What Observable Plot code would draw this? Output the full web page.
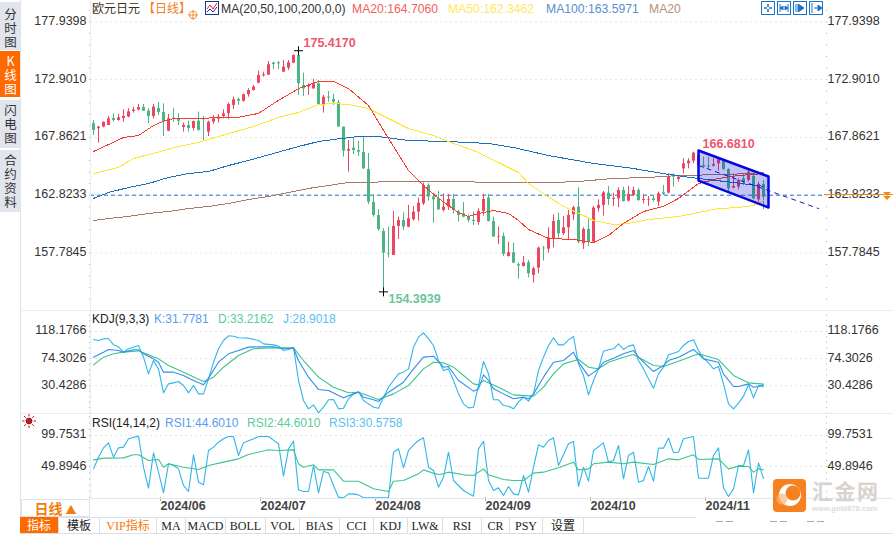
<!DOCTYPE html>
<html><head><meta charset="utf-8">
<script src="https://cdn.jsdelivr.net/npm/d3@7"></script>
<script src="https://cdn.jsdelivr.net/npm/@observablehq/plot@0.6"></script>
<style>
html,body{margin:0;padding:0;background:#fff}
#c{position:relative;width:893px;height:534px;overflow:hidden;font-family:"Liberation Sans","Noto Sans CJK SC",sans-serif;background:#fff}
#c>*{position:absolute}
.t{white-space:nowrap;line-height:14px}
.side{left:0;width:20px;background:#e2e4ee;color:#333;font:12.5px/20px "Noto Sans CJK SC",sans-serif;box-sizing:border-box;padding-top:6px;writing-mode:vertical-rl;text-orientation:upright;letter-spacing:1.5px}
.tab{top:517px;height:16px;box-sizing:border-box;border-right:1px solid #dcdfe6;text-align:center;font:12px/18px "Liberation Serif","Noto Sans CJK SC",serif;color:#222}
</style></head><body><div id="c"></div>
<script>
const openP=[169.05,168.61,168.76,168.90,169.51,169.34,169.51,169.63,170.12,170.24,
170.47,170.15,169.69,170.38,170.04,168.41,169.54,169.45,168.73,168.90,
168.64,169.28,169.48,168.32,169.19,169.45,169.69,169.92,170.65,171.17,
171.00,171.58,171.95,172.59,173.23,173.29,174.34,174.37,173.55,173.90,
174.34,175.00,172.39,172.24,172.10,172.54,170.73,171.37,171.17,170.88,
168.76,166.66,166.93,166.72,166.55,165.06,162.19,161.05,159.66,157.74,
157.57,160.10,160.62,160.04,160.68,161.35,162.07,163.67,162.66,162.51,
161.49,161.78,162.45,161.35,161.20,160.91,160.62,160.45,161.41,162.57,
160.53,159.17,159.23,157.48,157.80,156.76,156.61,156.93,155.83,156.47,
158.21,158.12,159.02,160.62,159.46,159.98,161.11,161.78,158.59,159.84,
158.73,161.64,161.93,163.00,162.45,162.51,163.24,162.31,162.80,163.24,
162.36,162.39,162.51,162.22,163.03,163.00,164.60,164.19,165.12,165.56,
165.79,165.36,165.42,165.36,165.36,165.56,165.79,165.07,163.44,163.53,
164.25,164.11,164.46,162.42,163.76];
const closeP=[168.47,168.76,169.19,169.48,169.34,169.57,169.69,170.09,170.24,170.47,
170.15,169.69,170.50,170.04,169.19,169.48,169.43,169.28,168.90,168.64,
169.25,168.47,169.40,169.19,169.48,169.63,169.92,170.73,171.14,171.02,
171.58,171.95,172.24,173.26,173.32,174.19,174.22,174.28,173.99,174.37,
175.00,172.54,172.10,172.39,172.54,170.70,171.37,171.29,170.94,168.76,
166.66,166.81,166.72,166.58,165.12,162.21,161.05,159.83,157.77,157.69,
160.10,160.62,160.04,160.77,161.35,162.13,163.67,162.66,162.42,161.55,
161.78,162.45,161.49,161.06,160.91,160.62,160.53,161.41,162.45,160.53,
159.17,159.23,157.66,157.80,156.90,156.64,156.93,155.97,156.41,158.21,
158.15,159.08,160.53,159.46,159.98,161.06,161.73,158.73,159.84,158.73,
161.70,161.93,163.03,162.45,162.54,163.24,162.28,162.89,163.24,162.36,
162.45,162.45,162.36,162.95,162.89,164.40,164.40,164.40,165.56,165.79,
166.49,166.29,165.27,165.27,165.50,165.91,165.07,163.38,163.58,164.11,
163.96,164.83,162.51,163.76,162.65];
const highP=[169.34,168.82,169.19,169.69,169.92,169.86,170.27,170.36,170.50,170.73,
170.73,170.36,170.73,170.91,170.79,169.86,170.36,169.92,169.11,169.28,
169.28,170.07,169.69,169.28,169.77,169.86,170.27,170.85,171.37,171.29,
171.66,172.10,172.39,173.64,173.55,174.48,174.42,174.48,174.57,174.57,
175.06,175.417,173.46,172.54,172.91,172.83,171.52,171.87,171.61,171.08,
168.76,167.59,167.74,167.51,167.89,166.46,162.88,161.57,159.92,160.04,
161.41,160.91,161.29,161.93,161.84,162.57,163.88,163.82,163.00,163.15,
162.95,162.89,162.89,161.49,162.19,161.11,161.35,161.64,162.89,162.89,
160.91,160.04,159.52,158.73,158.65,156.90,157.48,157.13,156.55,158.30,
158.35,159.98,161.11,161.26,160.97,161.49,161.87,163.47,159.98,160.82,
161.84,162.42,163.15,163.59,163.00,163.47,163.53,163.59,163.53,163.38,
162.89,162.71,162.80,163.09,163.67,164.69,164.69,164.54,166.00,166.00,
166.58,166.681,166.14,166.14,166.00,166.00,165.85,165.12,164.69,164.25,
164.69,164.98,164.69,163.96,164.11];
const lowP=[168.03,167.36,168.70,168.90,169.19,169.28,169.19,169.57,169.98,170.21,
170.12,169.05,169.48,169.77,167.94,168.35,169.19,168.90,168.32,168.32,
168.41,168.41,167.54,167.94,168.99,169.11,169.48,169.40,170.27,170.65,
170.94,171.37,171.90,172.54,173.12,173.26,173.78,173.76,173.52,173.70,
174.28,171.52,171.43,171.52,172.04,170.65,169.98,170.94,170.65,168.76,
166.14,164.83,166.37,166.20,165.07,162.01,160.90,159.68,154.3939,157.37,
157.57,158.96,159.75,159.98,160.56,160.56,161.93,162.31,160.39,161.49,
161.35,161.49,161.20,160.48,160.85,160.42,160.19,160.19,161.00,160.48,
159.17,158.53,157.48,157.42,156.84,155.51,156.55,155.62,155.16,155.97,
157.08,157.77,158.24,159.02,159.31,158.96,160.62,158.59,158.09,158.35,
158.73,161.35,161.00,161.93,161.84,161.73,162.22,162.22,162.71,162.28,
162.07,161.84,162.22,161.84,162.80,162.95,163.53,163.96,164.69,165.12,
165.56,164.98,165.12,165.12,165.27,164.92,164.98,163.09,163.38,163.29,
163.67,163.96,162.42,162.22,161.55];

const ma20Idx=[0,6,9,12,14,16,22,29,33,36,41,45,48,51,55,59,63,66,69,73,75,77,80,83,85,87,91,96,100,103,106,110,114,117,121,125,129,134];
const ma20Val=[166.63,167.85,168.03,168.90,169.27,169.51,169.54,169.62,169.95,170.82,172.12,172.74,172.74,172.12,170.64,167.77,164.98,163.67,162.54,161.31,160.97,161.23,161.49,161.23,160.62,159.83,159.05,158.96,158.70,159.31,160.36,161.40,161.84,162.54,163.84,164.28,164.54,164.706];
const ma50Idx=[0,5,8,12,17,21,27,32,37,41,45,48,51,55,59,63,68,71,76,81,85,87,90,94,98,100,104,107,111,115,117,125,129,132,134];
const ma50Val=[164.71,165.24,166.02,166.46,167.07,167.42,168.20,168.81,169.60,170.03,170.73,170.82,170.73,170.38,169.51,168.64,168.03,167.50,166.72,165.67,164.80,163.84,162.97,161.84,161.05,160.62,160.27,160.36,160.70,160.88,160.97,161.66,161.75,161.92,162.3462];
const ma100Idx=[0,3,7,11,15,19,23,27,31,36,41,45,48,53,57,63,71,79,84,91,100,108,115,121,128,134];
const ma100Val=[162.54,163.06,163.49,163.84,164.37,164.71,164.89,165.41,165.85,166.46,167.07,167.50,167.68,167.94,167.94,167.59,167.50,167.33,166.98,166.28,165.59,165.15,164.63,164.28,163.93,163.5971];
const ma200Idx=[0,3,7,11,15,19,23,27,31,35,39,43,47,51,55,59,71,81,92,97,104,111,117,127,134];
const ma200Val=[160.62,160.79,160.97,161.23,161.40,161.66,161.84,162.10,162.45,162.71,163.06,163.41,163.67,163.93,163.93,164.02,164.02,163.93,163.93,164.02,164.28,164.37,164.54,164.63,164.80];

const jIdx=[0,1,2,3,4,5,6,7,9,10,11,12,13,14,15,16,17,18,19,20,21,22,23,24,25,26,27,28,29,31,33,34,36,37,38,39,40,41,42,43,44,45,46,47,48,49,50,51,52,53,54,55,56,57,58,59,60,61,62,63,64,65,66,67,68,69,70,71,72,73,74,75,76,77,78,79,80,81,82,83,84,85,86,87,88,89,90,91,92,93,94,95,96,97,98,99,100,101,102,103,104,105,106,107,108,109,110,111,112,113,114,115,116,117,118,119,120,121,122,123,124,125,126,127,128,129,130,131,132,133,134];
const jVal=[105.2,103.6,106.3,106.9,96.6,93.4,84.8,90.2,95.6,76.7,49.8,71.3,57.8,19.1,33.6,35.2,37.4,30.9,19.1,30.9,17.4,17.4,41.7,68.6,90.2,103.6,111.2,110.6,108.0,107.4,103.6,98.2,96.6,94.5,87.5,89.1,92.9,39.0,6.7,-6.8,-0.3,-13.3,-4.1,7.8,8.3,-6.8,-5.7,9.4,17.4,21.2,6.7,1.3,-4.1,-5.7,12.1,28.2,39.0,49.8,52.5,57.8,92.9,109.0,116.0,106.3,95.6,71.3,55.2,57.8,39.0,17.4,1.3,-5.2,-4.1,30.9,69.7,49.8,7.8,7.8,-1.4,-2.5,-6.8,4.0,12.1,5.6,17.4,55.2,76.7,95.6,108.0,96.6,96.6,104.7,110.1,65.9,47.1,15.8,39.0,57.8,86.4,88.6,90.2,98.2,89.1,94.5,96.6,71.3,57.8,41.7,26.6,49.8,60.5,80.5,83.2,85.9,95.6,102.0,104.7,87.5,75.1,67.5,57.8,61.6,33.6,1.3,-6.8,2.4,13.7,32.5,11.0,30.9,28.9018];
const kIdx=[0,2,3,5,6,8,9,10,12,13,14,16,18,20,22,23,25,27,29,31,33,36,38,40,41,43,45,47,49,50,52,53,54,56,57,59,62,64,66,68,70,71,73,76,77,78,79,80,82,84,86,87,88,90,92,94,96,97,99,101,102,104,106,108,109,112,114,115,117,120,121,122,125,126,128,129,131,132,133,134];
const kVal=[76.7,84.8,89.1,87.5,84.8,88.6,88.6,82.1,74.0,68.6,52.5,52.5,47.1,39.0,32.0,42.8,68.6,82.1,87.5,92.9,93.4,93.4,90.2,91.2,71.3,44.4,24.4,22.8,14.7,11.0,17.4,20.1,12.1,7.8,5.1,20.1,36.3,57.8,76.7,78.3,60.5,61.6,39.0,21.8,25.5,48.2,39.0,25.5,17.4,9.4,12.1,9.4,17.4,44.4,68.6,71.3,84.8,68.6,46.0,57.8,68.6,75.1,82.1,87.5,76.7,53.5,63.2,71.3,76.7,89.1,82.1,74.0,68.6,49.8,29.3,29.3,33.6,28.2,29.3,31.7781];
const dIdx=[0,2,4,6,9,11,13,15,18,22,24,26,29,32,36,40,42,45,48,51,53,57,60,63,66,68,70,72,74,76,77,78,81,84,88,90,92,94,97,99,101,103,106,108,112,114,117,121,125,128,131,134];
const dVal=[64.3,76.7,82.1,84.8,86.9,80.5,74.0,63.2,52.5,37.4,44.4,60.5,79.4,90.2,91.8,91.8,71.3,44.4,28.2,19.1,20.1,8.3,17.4,30.9,57.8,68.6,67.5,60.5,47.1,33.6,32.0,39.0,28.2,15.8,13.7,28.2,49.8,65.9,72.9,60.5,57.8,68.6,76.7,81.0,63.2,61.6,70.2,82.1,72.9,47.1,35.2,33.2162];

const rsi3Idx=[0,1,2,3,4,5,6,7,9,10,11,12,13,14,15,16,17,18,19,20,21,22,23,24,25,26,27,28,29,30,32,33,35,37,38,39,40,41,42,43,44,45,46,47,48,49,50,51,52,53,54,59,60,61,62,63,64,65,66,67,68,69,70,71,72,74,76,77,78,79,80,81,82,83,84,85,86,87,88,89,90,91,92,93,95,96,97,98,99,100,102,103,104,105,106,107,108,109,110,111,112,113,114,115,116,117,118,120,121,123,124,125,126,127,128,129,130,131,132,133,134];
const rsi3Val=[46.1,64.9,79.9,87.9,64.9,79.9,81.0,94.4,98.7,48.8,15.1,71.9,40.8,7.6,54.2,51.5,46.1,19.4,9.7,68.7,24.7,20.4,75.6,81.0,89.0,94.4,98.1,98.1,67.6,87.9,94.4,98.1,98.1,86.3,34.4,78.3,90.6,12.4,9.7,9.7,51.5,7.6,41.9,39.7,19.4,0.6,-0.5,5.9,5.9,4.3,-0.5,-0.5,72.9,78.3,47.8,75.6,84.7,91.7,96.0,48.8,43.5,16.7,32.8,72.9,27.4,11.3,2.2,78.3,90.6,27.4,11.3,15.6,3.3,17.7,5.9,4.3,35.4,8.6,48.8,84.7,81.0,91.7,96.0,51.5,86.3,90.1,17.7,48.8,26.3,75.6,87.9,56.9,59.6,83.7,30.1,67.6,72.9,24.7,27.4,49.9,26.3,79.4,79.4,95.5,71.9,72.9,94.4,98.1,31.1,31.1,67.6,79.9,15.6,1.7,14.0,51.5,51.5,76.7,7.6,55.8,30.5758];
const rsi2Idx=[0,2,6,8,9,11,13,14,15,18,21,23,26,29,31,35,37,40,41,42,44,45,48,50,53,56,59,60,62,65,66,68,69,70,71,74,76,78,79,82,84,86,88,90,93,96,97,99,100,103,106,108,112,115,117,120,121,125,127,129,131,132,133,134];
const rsi2Val=[60.6,63.3,63.8,68.7,68.7,59.6,61.2,48.8,54.2,48.8,45.1,51.5,56.9,62.2,69.2,76.7,75.6,76.7,54.2,48.8,52.6,44.5,44.5,26.3,26.3,14.0,9.7,26.3,27.4,38.1,44.5,39.2,37.0,38.1,40.8,36.5,35.4,46.1,36.5,29.0,27.4,27.4,39.2,40.8,47.8,56.9,44.5,46.1,54.2,56.9,54.2,56.9,53.1,62.2,60.6,68.7,61.2,62.2,46.1,50.5,49.9,40.8,46.1,44.6010];

const mainTicks=[177.9398,172.9010,167.8621,162.8233,157.7845];
const kdjTicks=[118.1766,74.3026,30.4286];
const rsiTicks=[99.7531,49.8946];
const monthIdx=[13,33,56,78,99,122];
const monthLabels=["2024/06","2024/07","2024/08","2024/09","2024/10","2024/11"];
const lastPrice=162.8233;
const channelX=[121,135];
const channelTop=[166.72,164.45];
const channelBottom=[164.10,161.75];
const trendX=[121,145];
const trendY=[165.41,161.66];
const extremes=[{i:41,p:175.417,c:"#f0566e",dx:5,dy:-8},{i:121,p:166.681,c:"#f0566e",dx:4,dy:-7},{i:58,p:154.3939,c:"#6cc49a",dx:5,dy:7}];
const crosses=[{i:41,p:175.417},{i:58,p:154.3939}];

const root=document.getElementById("c");
const FONT='"Liberation Sans",sans-serif';
const xDom=[-0.6,146.4];
const zip=(idx,val)=>idx.map((i,k)=>({i,v:val[k]}));
const f4=d3.format(".4f");
const RED="#ee4660",GRN="#4db584";
function minor(majors){const s=(majors[0]-majors[1])/5;return d3.range(-5,31).map(k=>majors[0]-k*s);}
function panel(top,h,mb,yDom,ticks,marks){
  const mn=minor(ticks).filter(v=>v<=yDom[0]&&v>=yDom[1]);
  const el=Plot.plot({width:893,height:h+mb,marginLeft:90,marginRight:68,marginTop:0,marginBottom:mb,
    x:{domain:xDom,range:[90,825],axis:null},y:{domain:yDom,range:[0,h],axis:null},
    style:{fontFamily:FONT,fontSize:"12.5px",color:"#333",background:"transparent",position:"absolute",left:"0",top:top+"px"},
    marks:[
      Plot.gridY(ticks,{stroke:"#e6e6e6",strokeOpacity:1,strokeDasharray:"2,3"}),
      Plot.axisY(mn,{anchor:"left",label:null,tickSize:1,tickFormat:()=>"",stroke:"#b5b5b5"}),
      Plot.axisY(mn,{anchor:"right",label:null,tickSize:1,tickFormat:()=>"",stroke:"#b5b5b5"}),
      Plot.axisY(ticks,{anchor:"left",label:null,tickSize:0,tickPadding:4,tickFormat:f4,fill:"#333",dy:-1}),
      Plot.axisY(ticks,{anchor:"right",label:null,tickSize:0,tickPadding:2,tickFormat:f4,fill:"#333",dy:-1}),
      ...marks]});
  root.appendChild(el);
}
const candles=openP.map((o,i)=>({i,o,c:closeP[i],h:highP[i],l:lowP[i],col:closeP[i]>=o?RED:GRN}));
const lineOf=(idx,val,stroke)=>Plot.line(zip(idx,val),{x:"i",y:"v",stroke,strokeWidth:1,shapeRendering:"crispEdges"});
const softLine=(idx,val,stroke)=>Plot.line(zip(idx,val),{x:"i",y:"v",stroke,strokeWidth:1.1});

panel(0,310,0,[179.797,152.77],mainTicks,[
  Plot.ruleY([lastPrice],{stroke:"#1c78d4",strokeWidth:1,strokeDasharray:"4,3"}),
  Plot.ruleX(candles,{x:"i",y1:"l",y2:"h",stroke:"col",strokeWidth:1}),
  Plot.ruleX(candles,{x:"i",y1:"o",y2:"c",stroke:"col",strokeWidth:3}),
  lineOf(ma200Idx,ma200Val,"#a5786a"),
  lineOf(ma100Idx,ma100Val,"#1b6fbd"),
  lineOf(ma50Idx,ma50Val,"#ffe72e"),
  lineOf(ma20Idx,ma20Val,"#f63d2d"),
  Plot.areaY(channelX.map((x,k)=>({x,a:channelTop[k],b:channelBottom[k]})),{x:"x",y1:"a",y2:"b",fill:"#1010d8",fillOpacity:0.25}),
  Plot.line([[0,channelTop],[1,channelTop],[1,channelBottom],[0,channelBottom],[0,channelTop]].map(([s,arr])=>({x:channelX[s],y:arr[s]})),{x:"x",y:"y",stroke:"#0505e6",strokeWidth:2.5}),
  Plot.line(trendX.map((x,k)=>({x,y:trendY[k]})),{x:"x",y:"y",stroke:"#1010e0",strokeWidth:1,strokeDasharray:"4,5"}),
  Plot.dot(crosses,{x:"i",y:"p",symbol:"plus",r:3,stroke:"#000",strokeWidth:1}),
  ...extremes.map(e=>Plot.text([e],{x:"i",y:"p",text:d=>f4(d.p),fill:e.c,fontWeight:"bold",fontSize:12.5,textAnchor:"start",dx:e.dx,dy:e.dy}))
]);

panel(310,103,0,[152.1,-14.3],kdjTicks,[
  softLine(jIdx,jVal,"#2fb6ea"),
  softLine(dIdx,dVal,"#3cc48c"),
  softLine(kIdx,kVal,"#2f8fee")
]);
const monthOf=new Map(monthIdx.map((m,k)=>[m,monthLabels[k]]));
panel(413,85,18,[135.1,-1.55],rsiTicks,[
  softLine(rsi3Idx,rsi3Val,"#2fb6ea"),
  softLine(rsi2Idx,rsi2Val,"#3cc48c"),
  Plot.axisX(monthIdx,{anchor:"bottom",label:null,tickSize:4,tickPadding:0,tickFormat:d=>monthOf.get(d),textAnchor:"start",fontWeight:"bold",fontSize:12.5,fill:"#444",stroke:"#aaa",dx:2,dy:-1})
]);

function add(html,css,cls){const d=document.createElement("div");d.innerHTML=html;d.style.cssText=css;if(cls)d.className=cls;root.appendChild(d);return d;}
function t(x,y,s,col,fs=12,extra=""){add(s,`left:${x}px;top:${y-7}px;color:${col};font-size:${fs}px;${extra}`,"t");}
// frame lines
add("","left:20px;top:0;width:1px;height:534px;background:#dfe3ea");
add("","left:90px;top:0;width:1px;height:498px;background:#e8edf2");
add("","left:20px;top:310px;width:873px;height:1px;background:#e8ecf0");
add("","left:20px;top:413px;width:873px;height:1px;background:#e8ecf0");
add("","left:90px;top:498px;width:803px;height:1px;background:#e4e8ec");
add("","left:20px;top:517px;width:676px;height:1px;background:#dcdfe6");
add("","left:20px;top:533px;width:873px;height:1px;background:#dcdfe6");
// sidebar
add("分时图","top:2px;height:48px","side");
add("K线图","top:51px;height:46px;background:#ff6a00;color:#fff;padding-top:4px","side");
add("闪电图","top:100px;height:48px;padding-top:4px","side");
add("合约资料","top:150px;height:62px;padding-top:4px","side");
// legends
t(92,9,"欧元日元","#3b3220",12);
t(143,9,"【日线】","#f08018",12);
add('<svg width="10" height="10" viewBox="0 0 12 12"><circle cx="6" cy="6" r="4.5" fill="none" stroke="#f08018"/><path d="M0 6H12M6 0V12" stroke="#f08018"/></svg>',"left:188px;top:6px");
add('<svg width="14" height="14" viewBox="0 0 14 14"><rect x=".5" y=".5" width="13" height="13" fill="#fff" stroke="#123a8c"/><path d="M2 8L5 4L8 8L12 2" fill="none" stroke="#e22"/><path d="M2 11L5 8L8 11L12 6" fill="none" stroke="#22c"/></svg>',"left:205px;top:1px");
t(221,9,"MA(20,50,100,200,0,0)","#333",12.2);
t(352,9,"MA20:164.7060","#f5605a",12.2);
t(448,9,"MA50:162.3462","#ffe95a",12.2);
t(546,9,"MA100:163.5971","#5a8fcb",12.2);
t(649,9,"MA20","#b8927c",12.2);
t(92,319,"KDJ(9,3,3)","#222",12);
t(154,319,"K:31.7781","#5c9bf0",12);
t(218,319,"D:33.2162","#58cc9a",12);
t(283,319,"J:28.9018","#58bff0",12);
t(92,423,"RSI(14,14,2)","#222",12);
t(165,423,"RSI1:44.6010","#5c9bf0",12);
t(247,423,"RSI2:44.6010","#58cc9a",12);
t(329,423,"RSI3:30.5758","#58bff0",12);
// toolbar icons
const ico=['<path d="M7 3V6M7 8V11M3 7H6M8 7H11" stroke="#1a75c2" stroke-width="1.6"/>','<path d="M3 3V11M11 3V11M3 7L6 5V9ZM11 7L8 5V9Z" stroke="#1a75c2" fill="#1a75c2"/>','<path d="M3 3V11M5 3L11 7L5 11Z" stroke="#1a75c2" fill="#1a75c2"/>','<path d="M3 2V12M5 7H9M9 4L13 7L9 10Z" stroke="#1a75c2" fill="#1a75c2"/>'];
ico.forEach((p,k)=>add(`<svg width="14" height="14" viewBox="0 0 14 14"><rect x=".5" y=".5" width="13" height="13" fill="#fff" stroke="#1a75c2"/>${p}</svg>`,`left:${761+k*16}px;top:1px`));
// price marker
add("","left:824px;top:194px;width:69px;height:1px;background:#f08a1c");
add('<svg width="9" height="9" viewBox="0 0 9 9"><path d="M0 0H8L4 4ZM0 4H8L4 8Z" fill="#f08a1c"/></svg>',"left:883px;top:187px");
// sun icon
add('<svg width="14" height="14" viewBox="0 0 14 14"><circle cx="7" cy="7" r="3" fill="#e01010" stroke="#222" stroke-width=".6"/><path d="M7 0V2.5M7 11.5V14M0 7H2.5M11.5 7H14M2 2L3.8 3.8M10.2 10.2L12 12M12 2L10.2 3.8M3.8 10.2L2 12" stroke="#e01010"/></svg>',"left:22px;top:414px");
// bottom
add('日线 <span style="font-size:11px">▲</span>',"left:21px;top:499px;width:69px;height:18px;box-sizing:border-box;border:1px solid #dfe3ea;color:#f57c0c;font:bold 14px/16px 'Noto Sans CJK SC',sans-serif;text-align:center");
const tabs=[["指标",20,59],["模板",59,100],["VIP指标",100,157],["MA",157,186],["MACD",186,226],["BOLL",226,266],["VOL",266,300],["BIAS",300,340],["CCI",340,374],["KDJ",374,408],["LW&",408,443],["RSI",443,482],["CR",482,510],["PSY",510,543],["设置",543,584]];
tabs.forEach(([s,a,b],k)=>add(s,`left:${a}px;width:${b-a}px;${k==0?"background:#ff6a00;color:#fff;":k==2?"color:#f57c0c;":""}`,"tab"));
// clipped tops of the time row, watermark
[716,726,770,780,807,817].forEach(x=>add("",`left:${x}px;top:521px;width:7px;height:1px;background:#aaa`));
add('<svg width="33" height="33" viewBox="0 0 33 33"><rect width="33" height="33" rx="4" fill="#f5821f"/><circle cx="17" cy="16" r="11" fill="#fff"/><circle cx="20" cy="14" r="7.5" fill="#f5821f"/><circle cx="9" cy="20" r="5.5" fill="#f9b57a" opacity=".7"/></svg>',"left:773px;top:479px");
add("汇金网","left:812px;top:476px;color:#d8d3cd;font:bold 21px/28px 'Noto Sans CJK SC',sans-serif;letter-spacing:1.5px;white-space:nowrap");
add("www.gold678.com","left:812px;top:504px;color:#dcdcdc;font:bold 7.5px/10px 'Liberation Sans',sans-serif;white-space:nowrap");
</script></body></html>
